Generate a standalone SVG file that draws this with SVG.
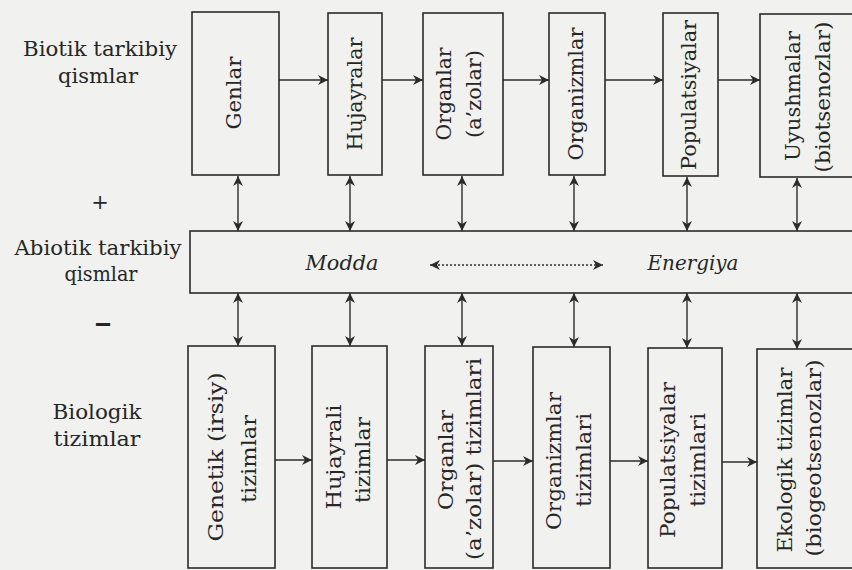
<svg xmlns="http://www.w3.org/2000/svg" width="852" height="570" viewBox="0 0 852 570">
<style>
.bx{fill:none;stroke:#2b2b2b;stroke-width:1.6}
.ln{fill:none;stroke:#2b2b2b;stroke-width:1.4}
.dt{fill:none;stroke:#2b2b2b;stroke-width:1.4;stroke-dasharray:2 2}
.lb{font-family:"DejaVu Serif","Liberation Serif",serif;fill:#262626;font-size:21px;text-anchor:middle}
.sg{font-family:"DejaVu Serif","Liberation Serif",serif;fill:#262626;font-size:26px;font-weight:bold;text-anchor:middle}
.vt{font-family:"DejaVu Serif","Liberation Serif",serif;fill:#262626;font-size:21px;text-anchor:middle;dominant-baseline:central}
.it{font-family:"DejaVu Serif","Liberation Serif",serif;fill:#262626;font-size:20px;font-style:italic;text-anchor:middle;dominant-baseline:central}
</style>
<defs>
<marker id="ah" viewBox="0 0 10 10" refX="10" refY="5" markerWidth="10" markerHeight="10" markerUnits="userSpaceOnUse" orient="auto-start-reverse">
<path d="M0,0 L10,5 L0,10 L3,5 z" fill="#2b2b2b"/>
</marker>
</defs>
<rect x="0" y="0" width="852" height="570" fill="#f1f1ef"/>

<g id="labels">
<text class="lb" x="100" y="56" textLength="154" lengthAdjust="spacingAndGlyphs">Biotik tarkibiy</text>
<text class="lb" x="98" y="83" textLength="80" lengthAdjust="spacingAndGlyphs">qismlar</text>
<text class="lb" x="100" y="209">+</text>
<text class="lb" x="98" y="255" textLength="167" lengthAdjust="spacingAndGlyphs">Abiotik tarkibiy</text>
<text class="lb" x="101" y="281" textLength="73" lengthAdjust="spacingAndGlyphs">qismlar</text>
<text class="sg" x="103" y="331" textLength="18" lengthAdjust="spacingAndGlyphs">–</text>
<text class="lb" x="97" y="419" textLength="89" lengthAdjust="spacingAndGlyphs">Biologik</text>
<text class="lb" x="97" y="446" textLength="87" lengthAdjust="spacingAndGlyphs">tizimlar</text>
</g>

<g id="genlar">
<rect class="bx" x="192" y="12" width="87" height="163"/>
<text class="vt" transform="translate(234,93) rotate(-90)" textLength="73" lengthAdjust="spacingAndGlyphs">Genlar</text>
</g>
<g id="hujayralar">
<rect class="bx" x="328" y="13" width="54" height="162"/>
<text class="vt" transform="translate(355,94) rotate(-90)" textLength="113" lengthAdjust="spacingAndGlyphs">Hujayralar</text>
</g>
<g id="organlar">
<rect class="bx" x="423" y="13" width="80" height="162"/>
<text class="vt" transform="translate(444,94) rotate(-90)" textLength="93" lengthAdjust="spacingAndGlyphs">Organlar</text>
<text class="vt" transform="translate(474,94) rotate(-90)" textLength="88" lengthAdjust="spacingAndGlyphs">(a’zolar)</text>
</g>
<g id="organizmlar">
<rect class="bx" x="549" y="13" width="56" height="162"/>
<text class="vt" transform="translate(576,94) rotate(-90)" textLength="133" lengthAdjust="spacingAndGlyphs">Organizmlar</text>
</g>
<g id="populatsiyalar">
<rect class="bx" x="663" y="13" width="55" height="163"/>
<text class="vt" transform="translate(689,95) rotate(-90)" textLength="150" lengthAdjust="spacingAndGlyphs">Populatsiyalar</text>
</g>
<g id="uyushmalar">
<rect class="bx" x="760" y="14" width="110" height="163"/>
<text class="vt" transform="translate(793,96) rotate(-90)" textLength="130" lengthAdjust="spacingAndGlyphs">Uyushmalar</text>
<text class="vt" transform="translate(823,97) rotate(-90)" textLength="151" lengthAdjust="spacingAndGlyphs">(biotsenozlar)</text>
</g>

<g id="abiotik">
<rect class="bx" x="190" y="231" width="680" height="62"/>
<text class="it" x="342" y="263" textLength="73" lengthAdjust="spacingAndGlyphs">Modda</text>
<text class="it" x="693" y="263" textLength="91" lengthAdjust="spacingAndGlyphs">Energiya</text>
</g>

<g id="genetik">
<rect class="bx" x="188" y="346" width="87" height="222"/>
<text class="vt" transform="translate(216,457) rotate(-90)" textLength="169" lengthAdjust="spacingAndGlyphs">Genetik  (irsiy)</text>
<text class="vt" transform="translate(249,459) rotate(-90)" textLength="88" lengthAdjust="spacingAndGlyphs">tizimlar</text>
</g>
<g id="hujayrali">
<rect class="bx" x="312" y="346" width="75" height="222"/>
<text class="vt" transform="translate(334,457) rotate(-90)" textLength="105" lengthAdjust="spacingAndGlyphs">Hujayrali</text>
<text class="vt" transform="translate(363,460) rotate(-90)" textLength="86" lengthAdjust="spacingAndGlyphs">tizimlar</text>
</g>
<g id="organlar-tizimlari">
<rect class="bx" x="425" y="346" width="68" height="222"/>
<text class="vt" transform="translate(446,460) rotate(-90)" textLength="100" lengthAdjust="spacingAndGlyphs">Organlar</text>
<text class="vt" transform="translate(474,459) rotate(-90)" textLength="202" lengthAdjust="spacingAndGlyphs">(a’zolar)  tizimlari</text>
</g>
<g id="organizmlar-tizimlari">
<rect class="bx" x="533" y="347" width="77" height="221"/>
<text class="vt" transform="translate(554,461) rotate(-90)" textLength="138" lengthAdjust="spacingAndGlyphs">Organizmlar</text>
<text class="vt" transform="translate(584,460) rotate(-90)" textLength="94" lengthAdjust="spacingAndGlyphs">tizimlari</text>
</g>
<g id="populatsiyalar-tizimlari">
<rect class="bx" x="648" y="348" width="74" height="220"/>
<text class="vt" transform="translate(668,460) rotate(-90)" textLength="156" lengthAdjust="spacingAndGlyphs">Populatsiyalar</text>
<text class="vt" transform="translate(698,460) rotate(-90)" textLength="94" lengthAdjust="spacingAndGlyphs">tizimlari</text>
</g>
<g id="ekologik">
<rect class="bx" x="757" y="349" width="113" height="219"/>
<text class="vt" transform="translate(785,460) rotate(-90)" textLength="185" lengthAdjust="spacingAndGlyphs">Ekologik tizimlar</text>
<text class="vt" transform="translate(814,458) rotate(-90)" textLength="197" lengthAdjust="spacingAndGlyphs">(biogeotsenozlar)</text>
</g>

<g id="connectors">
<line class="ln" x1="279" y1="80" x2="328" y2="80" marker-end="url(#ah)"/>
<line class="ln" x1="382" y1="80" x2="423" y2="80" marker-end="url(#ah)"/>
<line class="ln" x1="503" y1="80" x2="549" y2="80" marker-end="url(#ah)"/>
<line class="ln" x1="605" y1="80" x2="663" y2="80" marker-end="url(#ah)"/>
<line class="ln" x1="718" y1="80" x2="760" y2="80" marker-end="url(#ah)"/>

<line class="ln" x1="238" y1="176" x2="238" y2="231" marker-start="url(#ah)" marker-end="url(#ah)"/>
<line class="ln" x1="350" y1="176" x2="350" y2="231" marker-start="url(#ah)" marker-end="url(#ah)"/>
<line class="ln" x1="462" y1="176" x2="462" y2="231" marker-start="url(#ah)" marker-end="url(#ah)"/>
<line class="ln" x1="574" y1="176" x2="574" y2="231" marker-start="url(#ah)" marker-end="url(#ah)"/>
<line class="ln" x1="687" y1="177" x2="687" y2="231" marker-start="url(#ah)" marker-end="url(#ah)"/>
<line class="ln" x1="797" y1="178" x2="797" y2="231" marker-start="url(#ah)" marker-end="url(#ah)"/>

<line class="ln" x1="238" y1="293" x2="238" y2="346" marker-start="url(#ah)" marker-end="url(#ah)"/>
<line class="ln" x1="350" y1="293" x2="350" y2="346" marker-start="url(#ah)" marker-end="url(#ah)"/>
<line class="ln" x1="462" y1="293" x2="462" y2="346" marker-start="url(#ah)" marker-end="url(#ah)"/>
<line class="ln" x1="574" y1="293" x2="574" y2="347" marker-start="url(#ah)" marker-end="url(#ah)"/>
<line class="ln" x1="687" y1="293" x2="687" y2="348" marker-start="url(#ah)" marker-end="url(#ah)"/>
<line class="ln" x1="797" y1="293" x2="797" y2="349" marker-start="url(#ah)" marker-end="url(#ah)"/>

<line class="dt" x1="430" y1="265" x2="603" y2="265" marker-start="url(#ah)" marker-end="url(#ah)"/>

<line class="ln" x1="275" y1="460" x2="312" y2="460" marker-end="url(#ah)"/>
<line class="ln" x1="387" y1="460" x2="425" y2="460" marker-end="url(#ah)"/>
<line class="ln" x1="493" y1="461" x2="533" y2="461" marker-end="url(#ah)"/>
<line class="ln" x1="610" y1="461" x2="648" y2="461" marker-end="url(#ah)"/>
<line class="ln" x1="722" y1="462" x2="757" y2="462" marker-end="url(#ah)"/>
</g>
</svg>
